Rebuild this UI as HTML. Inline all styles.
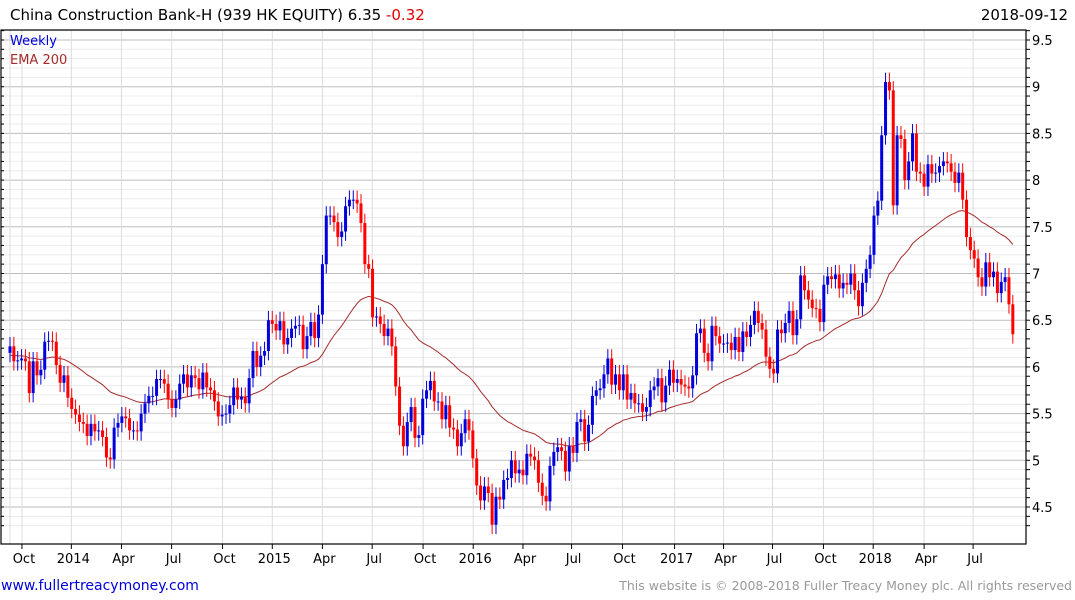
<!DOCTYPE html>
<html><head><meta charset="utf-8"><style>
body{margin:0;background:#fff;width:1075px;height:600px;overflow:hidden;font-family:"DejaVu Sans","Liberation Sans",sans-serif}
svg{display:block}
</style></head><body>
<svg id="chart" width="1075" height="600" xmlns="http://www.w3.org/2000/svg">
<text x="10" y="20" font-size="15" fill="#000">China Construction Bank-H (939 HK EQUITY) 6.35 <tspan fill="#e00000">-0.32</tspan></text>
<text x="1068" y="20" font-size="15" text-anchor="end" fill="#000">2018-09-12</text>
<g id="grid"></g><g id="ema"></g><g id="candles"></g><g id="axes"></g>
<text x="10" y="45" font-size="13" fill="#0000dd">Weekly</text>
<text x="10" y="64" font-size="13" fill="#a52a2a">EMA 200</text>
<text x="1" y="590" font-size="14" fill="#0000dd">www.fullertreacymoney.com</text>
<text x="1072" y="590" font-size="12.5" text-anchor="end" fill="#999">This website is © 2008-2018 Fuller Treacy Money plc. All rights reserved</text>
</svg>
<script>
const closes=[6.22,6.06,6.07,6.09,6.06,5.72,6.06,5.91,5.97,6.27,6.28,6.27,6.02,5.83,5.91,5.67,5.55,5.49,5.41,5.39,
5.26,5.39,5.31,5.32,5.25,5.03,5.01,5.35,5.40,5.47,5.45,5.32,5.32,5.31,5.50,5.61,5.69,5.69,5.87,5.87,
5.82,5.65,5.56,5.65,5.82,5.92,5.78,5.91,5.88,5.76,5.94,5.78,5.75,5.63,5.47,5.49,5.50,5.59,5.78,5.65,
5.68,5.61,5.88,6.17,6.00,6.12,6.17,6.50,6.46,6.39,6.49,6.24,6.31,6.41,6.44,6.45,6.19,6.33,6.48,6.31,
6.56,7.10,7.62,7.62,7.55,7.39,7.45,7.72,7.79,7.79,7.75,7.54,7.10,7.05,6.53,6.54,6.46,6.33,6.41,6.22,
5.79,5.37,5.15,5.41,5.57,5.24,5.27,5.66,5.75,5.85,5.63,5.63,5.44,5.59,5.35,5.33,5.15,5.29,5.44,5.32,
5.02,4.73,4.57,4.72,4.65,4.31,4.61,4.58,4.79,4.81,5.00,4.86,4.90,4.84,5.07,5.04,5.00,4.76,4.62,4.56,
4.94,5.09,5.14,5.10,4.88,5.15,5.08,5.41,5.44,5.20,5.38,5.69,5.75,5.77,5.92,6.09,5.81,5.92,5.75,5.92,
5.65,5.72,5.61,5.61,5.52,5.57,5.75,5.79,5.88,5.62,5.80,5.97,5.83,5.87,5.81,5.79,5.77,5.91,6.36,6.41,
6.15,6.06,6.44,6.33,6.25,6.25,6.26,6.18,6.32,6.16,6.38,6.32,6.45,6.60,6.47,6.40,6.11,5.98,5.93,6.40,
6.36,6.47,6.60,6.34,6.51,6.98,6.82,6.72,6.63,6.62,6.48,6.88,6.97,6.94,6.99,6.84,6.90,6.88,7.00,6.82,
6.65,6.90,7.05,7.20,7.62,7.78,8.48,9.05,8.96,7.73,8.48,8.44,8.00,8.20,8.50,8.09,8.07,7.93,8.17,8.07,
8.08,8.15,8.20,8.18,8.09,7.97,8.08,7.79,7.39,7.25,7.16,6.96,6.86,7.12,6.96,7.02,6.79,6.91,6.96,6.67,6.35];
const firstOpen=6.15;
const yTicks=["4.5","5","5.5","6","6.5","7","7.5","8","8.5","9","9.5"];
const xLabels=["Oct","2014","Apr","Jul","Oct","2015","Apr","Jul","Oct","2016","Apr","Jul","Oct","2017","Apr","Jul","Oct","2018","Apr","Jul"];
const xLabelWeeks=[3.1,15.9,28.9,41.9,55.1,68.0,81.0,93.9,107.1,120.1,133.0,145.6,158.8,172.3,185.0,197.7,210.9,223.8,237.0,249.7];
const emaSeed=6.12, emaPeriod=40;

const NS="http://www.w3.org/2000/svg";
const L=1,R=1026,T=30,B=544;
const yS=v=>40+(9.5-v)*93.4;
const xS=i=>10+i*3.857;
function mk(tag,attrs,parent){const e=document.createElementNS(NS,tag);for(const k in attrs)e.setAttribute(k,attrs[k]);parent.appendChild(e);return e;}
const grid=document.getElementById('grid'),axes=document.getElementById('axes'),cg=document.getElementById('candles'),eg=document.getElementById('ema');
for(let k=43;k<=96;k++){const v=k/10;const y=yS(v);if(y<T||y>B)continue;const major=k%5===0;
 const ln=mk('line',{x1:L,x2:R,y1:y,y2:y,stroke:major?'#bdbdbd':'#ececec','stroke-width':1},grid);
 
 
 const t=mk('line',{x1:R,x2:R+4,y1:y,y2:y,stroke:'#000'},axes);
 
 
 const t2=mk('line',{x1:L,x2:L+3,y1:y,y2:y,stroke:'#000'},axes);
 
 }
const vl=mk('line',{x1:10,x2:10,y1:T,y2:B,stroke:'#dcdcdc'},grid);


xLabels.forEach((lab,j)=>{const x=xS(xLabelWeeks[j]);
 const g=mk('line',{x1:x,x2:x,y1:T,y2:B,stroke:'#dcdcdc'},grid);
 
 
 const tk=mk('line',{x1:x,x2:x,y1:B,y2:B+5,stroke:'#000'},axes);
 
 
 const t=mk('text',{x:x+2,y:563,'font-size':13,'text-anchor':'middle',fill:'#000'},axes);t.textContent=lab;
 
 });
yTicks.forEach(s=>{const t=mk('text',{x:R+6,y:yS(+s)+5,'font-size':13,fill:'#000'},axes);t.textContent=s;
 
 });
const fr=mk('rect',{x:L,y:T,width:R-L,height:B-T,fill:'none',stroke:'#000','stroke-width':1.2},axes);


let e=emaSeed,a=2/(emaPeriod+1),pts=[];
closes.forEach((c,i)=>{e=e+a*(c-e);pts.push(xS(i).toFixed(1)+','+yS(e).toFixed(1));});
const pl=mk('polyline',{points:pts.join(' '),fill:'none',stroke:'#a52a2a','stroke-width':1},eg);


closes.forEach((c,i)=>{const o=i===0?firstOpen:closes[i-1];const up=c>=o;const col=up?'#0000dd':'#ff0000';
 const hi=Math.max(o,c)+0.1,lo=Math.min(o,c)-0.1;const x=xS(i);
 const g=mk('g',{},cg);
 
 
 mk('line',{x1:x,x2:x,y1:yS(hi),y2:yS(lo),stroke:col,'stroke-width':1},g);
 const yt=yS(Math.max(o,c)),yb=yS(Math.min(o,c));
 mk('rect',{x:x-1.5,y:yt,width:3,height:Math.max(1,yb-yt),fill:col},g);});
</script>
</body></html>
